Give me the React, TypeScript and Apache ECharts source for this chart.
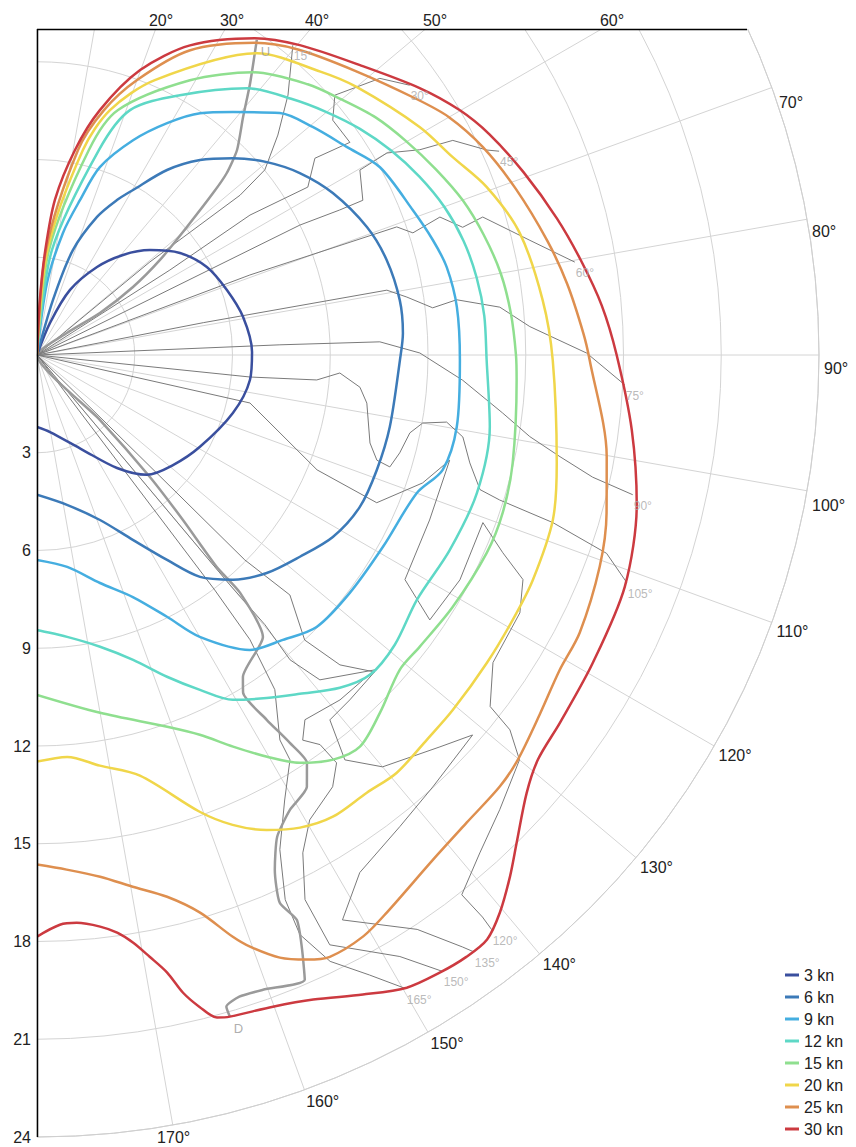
import React, { useEffect, useRef } from 'react';
import * as echarts from 'echarts';

// ---- data: [angle from bow (deg, clockwise from top), boat speed (kn)] ----
const windLabels = ['3 kn', '6 kn', '9 kn', '12 kn', '15 kn', '20 kn', '25 kn', '30 kn'];
const windColors = ['#3a4f9e', '#3c7ab8', '#45aee0', '#5ed8c6', '#8fdf8f', '#f0d64a', '#de8f4f', '#cc3a40'];

const polar3kn = [[20, 0], [22.1, 1.06], [26.9, 2.24], [34.3, 3.27], [40.7, 4.05], [47.1, 4.73], [54.5, 5.39], [62.6, 5.87], [71.1, 6.16], [79.5, 6.43], [89.2, 6.6], [96.7, 6.58], [106.5, 6.27], [119.4, 5.74], [129, 5.37], [137.5, 4.99], [144.7, 4.25], [154.2, 3.24], [170.4, 2.4], [180, 2.21]];
const polar6kn = [[15, 0], [16.2, 1.76], [18.9, 3.4], [23.5, 4.62], [27.3, 5.35], [30.2, 5.86], [35.1, 6.94], [39.9, 7.8], [44.85, 8.52], [50, 9.21], [55.3, 9.81], [61.3, 10.35], [68.8, 10.86], [74.8, 11.12], [81.4, 11.26], [86.6, 11.25], [90.8, 11.14], [101.5, 11.05], [108.7, 11.01], [115.2, 10.95], [121.6, 10.66], [127.5, 10.17], [133.5, 9.72], [138.9, 9.15], [143.7, 8.45], [147.6, 7.45], [152.6, 6.39], [159.1, 5.42], [168.7, 4.69], [180, 4.29]];
const polar9kn = [[6, 0], [7.9, 2.23], [12, 3.83], [15.5, 4.93], [18.5, 6.08], [24.1, 7.22], [29.3, 8.16], [34, 8.95], [38.9, 9.58], [45.1, 10.52], [50.4, 10.98], [56.1, 11.45], [61.3, 12.0], [68.9, 12.36], [73.8, 12.65], [77.9, 12.86], [83.5, 12.97], [90.7, 12.98], [99.7, 13.07], [105.8, 12.94], [110, 12.4], [119, 12.14], [127.25, 12.06], [134.2, 11.97], [139.2, 11.55], [144.2, 11.16], [150, 9.99], [153.6, 8.97], [158.4, 7.99], [164.55, 7.26], [171.9, 6.57], [180, 6.29]];
const polar12kn = [[4, 0], [8.1, 3.25], [16.8, 6.57], [20.8, 8.04], [28.8, 9.1], [38.2, 10.42], [45, 11.1], [50, 11.6], [55, 12.1], [60, 12.55], [65, 12.95], [70, 13.3], [75, 13.55], [80, 13.7], [85, 13.78], [90.6, 13.8], [99, 14.07], [107.4, 14.15], [115.3, 14.01], [122.8, 13.87], [129, 14.13], [133.85, 14.17], [137.7, 13.81], [142.2, 13.16], [146.2, 12.67], [150.4, 12.17], [154.05, 11.43], [158, 10.65], [162.5, 9.81], [167.8, 9.16], [173.9, 8.7], [180, 8.44]];
const polar15kn = [[3, 0], [6.5, 3.24], [14.2, 6.49], [18.3, 7.92], [29.1, 9.65], [37.4, 10.92], [45, 11.75], [50, 12.2], [55, 12.7], [60, 13.1], [65, 13.5], [70, 13.9], [75, 14.2], [80, 14.45], [85, 14.6], [90, 14.7], [93, 14.74], [102.8, 14.97], [108.7, 15.09], [113.75, 15.08], [121.2, 14.92], [127.3, 14.77], [130.95, 14.74], [136.2, 15.21], [140.5, 15.58], [143.8, 15.39], [147.2, 14.89], [150.2, 14.21], [153.4, 13.44], [156.8, 12.68], [160.7, 12.09], [170, 11.15], [180, 10.43]];
const polar20kn = [[2, 0], [5.7, 3.24], [12.6, 6.44], [16.6, 7.84], [23.2, 9.18], [36.1, 11.46], [45, 12.3], [50, 12.8], [59.2, 13.67], [64.55, 14.13], [69.5, 14.73], [75.8, 15.28], [83.8, 15.61], [90.6, 15.83], [101.7, 16.29], [107.7, 16.62], [114.4, 16.71], [119.1, 16.71], [124.4, 16.73], [130.5, 16.78], [134.6, 16.81], [139.3, 16.92], [143, 16.82], [147.35, 16.83], [150.9, 16.6], [154.2, 16.19], [157.4, 15.62], [160.4, 14.88], [166.25, 13.29], [171.3, 12.75], [175.7, 12.37], [180, 12.48]];
const polar25kn = [[1, 0], [4.9, 3.23], [11.3, 6.41], [15.3, 7.79], [20, 8.98], [26.6, 10.45], [34.9, 11.68], [40.5, 12.33], [48.3, 13.1], [56, 14.05], [60, 14.6], [65, 15.1], [70.8, 15.55], [77.4, 16.05], [82.4, 16.42], [87.7, 16.78], [90.5, 16.96], [100.1, 17.76], [105.5, 18.14], [110.6, 18.45], [117.1, 18.71], [121.1, 18.73], [125.6, 18.97], [130.1, 19.29], [133, 19.42], [137.4, 19.49], [141.9, 19.69], [147.9, 20.2], [150.7, 20.46], [154.05, 20.54], [155.95, 20.32], [158.05, 19.94], [160.2, 19.3], [161.4, 18.84], [163.7, 17.83], [166.5, 17.1], [169.8, 16.58], [173.1, 16.13], [176.7, 15.82], [180, 15.64]];
const polar30kn = [[0, 0], [3, 1.7], [4.5, 3.2], [6.6, 4.8], [10.5, 6.4], [14.4, 7.76], [19.9, 9.3], [26.3, 10.6], [34.5, 11.8], [40.3, 12.47], [48.1, 13.32], [55.1, 14.32], [59.9, 14.99], [64, 15.45], [69.4, 15.95], [75.3, 16.5], [80.2, 16.95], [85, 17.4], [90, 17.79], [97.2, 18.4], [104, 18.97], [111.5, 19.39], [119, 19.5], [125.1, 19.62], [128.9, 19.76], [131.8, 20.16], [135.5, 21.0], [137.8, 21.61], [140.3, 22.24], [142.4, 22.64], [144.5, 22.69], [146.9, 22.63], [149.7, 22.49], [153, 22.03], [156.8, 21.52], [160.1, 21.27], [163.75, 21.15], [164.8, 21.07], [166, 20.62], [167.1, 20.08], [168.1, 19.37], [169.4, 18.79], [170.7, 18.28], [172.1, 17.9], [173.7, 17.65], [176, 17.47], [177.7, 17.5], [180, 17.85]];

// true wind angle lines
const twaNames = ['15°', '30°', '45°', '60°', '75°', '90°', '105°', '120°', '135°', '150°', '165°'];
const twa15 = [[50.5, 0], [50.5, 4.49], [51.4, 6.4], [51.8, 7.93], [50.9, 9.01], [47.6, 10.01], [44.0, 11.09], [39.55, 12.33]];
const twa30 = [[57.4, 0], [57.4, 4.84], [56.7, 7.82], [58.2, 9.78], [54.7, 10.45], [55.8, 11.61], [51.55, 11.59], [48.9, 12.13], [51.1, 13.52], [54.1, 14.12]];
const twa45 = [[63.7, 0], [63.7, 9.0], [64.4, 10.3], [64.6, 11.07], [60.2, 11.42], [60.0, 12.4], [61.8, 13.33], [62.7, 14.36], [65.5, 15.17], [66.2, 15.5]];
const twa60 = [[69.5, 0], [69.4, 6.98], [70.4, 11.72], [72.0, 12.13], [71.1, 13.07], [73.3, 13.64], [72.8, 14.32], [76.9, 15.53], [80.2, 16.75]];
const twa75 = [[79, 0], [79, 5.2], [79.5, 10.92], [81.1, 11.49], [83.2, 12.23], [82.5, 12.99], [84.1, 14.28], [86.7, 15.15], [89.8, 16.87], [92.9, 18.06]];
const twa90 = [[87.6, 0], [87.6, 7.46], [87.8, 10.53], [89.7, 11.75], [93.4, 13.09], [97.1, 14.4], [99.4, 15.33], [101, 16.35], [102.4, 17.46], [103.2, 18.78]];
const twa105 = [[95.9, 0], [95.9, 6.57], [95.1, 8.62], [93.4, 9.31], [95.7, 9.96], [98.3, 10.23], [104.8, 10.57], [107.2, 10.92], [107.6, 11.36], [105.1, 11.53], [101.8, 11.69], [100, 12.02], [99.3, 12.74], [100.9, 13.31], [104, 13.69], [106.9, 14.21], [107.4, 14.88], [108, 16.65], [109.2, 18.51], [111.1, 19.4]];
const twa120 = [[102.7, 0], [102.7, 6.7], [112.3, 9.29], [113.5, 11.37], [108.35, 12.47], [104.3, 13.07], [112.8, 13.07], [121.4, 13.23], [124, 14.54], [118, 14.7], [110.6, 14.62], [113, 15.53], [114.8, 16.43], [118.1, 16.8], [124, 16.88], [127.8, 17.6], [128.4, 18.52], [130, 19.33], [134.5, 19.91], [138.35, 20.45], [141.8, 21.08], [141.6, 22.01], [141.65, 22.49]];
const twa135 = [[134.6, 0], [134.6, 8.96], [133.5, 10.7], [136.8, 12.0], [135.65, 13.3], [133.2, 14.21], [137.8, 14.29], [141.25, 14.36], [142.75, 15.61], [140, 16.5], [134.2, 17.25], [131.1, 17.74], [137.5, 17.98], [142.4, 18.26], [148.05, 18.72], [151.6, 19.71], [146.5, 21.14], [144.3, 22.37], [143.8, 22.7]];
const twa150 = [[140, 0], [140, 9.21], [139.8, 10.84], [140.3, 12.16], [138.95, 13.22], [133, 14.17], [138.7, 14.09], [143.7, 13.89], [145.4, 14.36], [144, 14.78], [143.7, 15.53], [145.6, 16.06], [149.6, 16.54], [151.9, 17.32], [153.8, 18.63], [153.6, 20.21], [148.9, 21.56], [146.65, 22.65]];
const twa165 = [[142.9, 0], [142.9, 9.04], [143.2, 10.91], [144.6, 12.6], [147.75, 13.97], [148, 14.65], [150.9, 15.63], [153.85, 16.91], [155.5, 18.37], [155.6, 19.53], [154.2, 20.67], [151.8, 21.59], [149.8, 22.5]];

// optimum VMG line: upwind part from U to centre, downwind part from centre to D
const vmgUpwind = [[34.9, 11.79], [38.1, 10.6], [40.9, 9.66], [44.3, 8.79], [46.2, 8.07], [47.4, 7.34], [49.5, 6.05], [52.3, 4.77], [54.7, 3.61], [56.3, 2.32], [53.7, 1.14], [54, 0]];
const vmgDownwind = [[136, 0], [135.9, 2.78], [137.2, 5.1], [138.5, 6.76], [139.7, 8.53], [139.5, 9.6], [141.3, 11.09], [147.4, 11.73], [148.6, 12.14], [147.8, 13.23], [146.9, 14.21], [146.5, 15.01], [148, 15.63], [150.9, 15.97], [153.5, 16.52], [155.2, 17.4], [156.1, 18.39], [155.3, 19.08], [155.9, 19.9], [156.8, 20.86], [160.4, 20.68], [162.5, 20.65], [163.8, 20.83], [163.75, 21.15]];

// angle labels above the clipped top edge, and the 70° label
const topAngleLabels = ['20°', '30°', '40°', '50°', '60°', '70°'];
const speedMax = 24;
const speedStep = 3;

const FONT = 'Liberation Sans, Arial, sans-serif';

export default function App() {
  const ref = useRef<HTMLDivElement>(null);
  useEffect(() => {
    const chart = echarts.init(ref.current as HTMLDivElement, undefined, { renderer: 'svg' });
    const toPolar = (pts: number[][]) => pts.map(([a, r]) => [r, 180 - a]);
    const curves = [polar3kn, polar6kn, polar9kn, polar12kn, polar15kn, polar20kn, polar25kn, polar30kn];
    const twaLines = [twa15, twa30, twa45, twa60, twa75, twa90, twa105, twa120, twa135, twa150, twa165];

    const series: any[] = [];
    twaLines.forEach((ln, i) => {
      series.push({
        type: 'line', coordinateSystem: 'polar', name: 'twa' + twaNames[i],
        data: toPolar(ln), showSymbol: false, symbol: 'none', silent: true, z: 2,
        lineStyle: { color: '#7a7a7a', width: 1 },
      });
    });
    series.push({
      type: 'line', coordinateSystem: 'polar', name: 'vmg',
      data: toPolar([...vmgUpwind, ...vmgDownwind]), showSymbol: false, symbol: 'none', z: 3,
      smooth: 0.2, lineStyle: { color: '#9a9a9a', width: 2.5 },
    });
    curves.forEach((c, i) => {
      series.push({
        type: 'line', coordinateSystem: 'polar', name: windLabels[i],
        data: toPolar(c), showSymbol: false, symbol: 'none', z: 4,
        smooth: 0.3, color: windColors[i], lineStyle: { color: windColors[i], width: 2.5 },
      });
    });
    series.push({
      type: 'scatter', coordinateSystem: 'polar', name: 'twaLabels', symbolSize: 0, z: 5, silent: true,
      data: twaLines.map((ln, i) => {
        const last = ln[ln.length - 1];
        return { name: twaNames[i], value: [last[1], 180 - last[0]] };
      }),
      label: { show: true, formatter: '{b}', position: [1, 5], align: 'left', verticalAlign: 'top', color: '#a8a8a8', fontSize: 12, fontFamily: FONT },
    });
    series.push({
      type: 'scatter', coordinateSystem: 'polar', name: 'vmgLabels', symbolSize: 0, z: 5, silent: true,
      data: [
        { name: 'U', value: [vmgUpwind[0][1], 180 - vmgUpwind[0][0]] },
        { name: 'D', value: [vmgDownwind[vmgDownwind.length - 1][1], 180 - vmgDownwind[vmgDownwind.length - 1][0]] },
      ],
      label: { show: true, formatter: '{b}', position: [4, 5], align: 'left', verticalAlign: 'top', color: '#999', fontSize: 13, fontFamily: FONT },
    });

    const topLabelPos = [[161, 20], [232, 20], [317, 20], [435, 20], [612, 20], [791, 102]];
    const graphic: any[] = [
      { type: 'rect', shape: { x: 0, y: 0, width: 856, height: 29 }, style: { fill: '#fff' }, z: 100 },
      { type: 'line', shape: { x1: 37, y1: 29.5, x2: 747, y2: 29.5 }, style: { stroke: '#000', lineWidth: 1.5 }, z: 101 },
      { type: 'line', shape: { x1: 37.5, y1: 29, x2: 37.5, y2: 1137 }, style: { stroke: '#000', lineWidth: 1.5 }, z: 101 },
      ...topAngleLabels.map((t, i) => ({
        type: 'text', x: topLabelPos[i][0], y: topLabelPos[i][1], z: 102,
        style: { text: t, fill: '#222', fontSize: 16, fontFamily: FONT, align: 'center', verticalAlign: 'middle' },
      })),
    ];

    chart.setOption({
      animation: false,
      backgroundColor: '#fff',
      polar: { center: [37, 355], radius: 782 },
      angleAxis: {
        type: 'value', min: 0, max: 180, interval: 10,
        startAngle: -90, endAngle: 90, clockwise: false,
        axisLine: { show: true, lineStyle: { color: '#cfcfcf', width: 1 } },
        axisTick: { show: false },
        splitLine: { show: true, lineStyle: { color: '#d4d4d4', width: 1 } },
        axisLabel: {
          margin: 5, color: '#222', fontSize: 16, lineHeight: 14, fontFamily: FONT,
          rich: {
            gap: { fontSize: 16, lineHeight: 27 },
            t: { fontSize: 16, lineHeight: 14, color: '#222', fontFamily: FONT },
          },
          formatter: (v: number) => {
            const deg = 180 - v;
            if (v <= 0 || deg <= 70) return '';
            if (deg <= 100) return '{gap| }\n{t|' + deg + '°}';
            return deg + '°';
          },
        },
      },
      radiusAxis: {
        type: 'value', min: 0, max: speedMax, interval: speedStep,
        axisLine: { show: false },
        axisTick: { show: false },
        splitLine: { show: true, lineStyle: { color: '#d4d4d4', width: 1 } },
        axisLabel: {
          margin: -6, align: 'right', color: '#222', fontSize: 16, fontFamily: FONT,
          formatter: (v: number) => (v === 0 ? '' : String(v)),
        },
      },
      legend: {
        data: windLabels, orient: 'vertical', left: 780, top: 962, itemGap: 6,
        itemWidth: 14, itemHeight: 3, icon: 'rect',
        textStyle: { fontSize: 16, lineHeight: 16, color: '#222', fontFamily: FONT },
      },
      series,
      graphic,
    });
    return () => chart.dispose();
  }, []);
  return <div ref={ref} style={{ position: 'absolute', left: 0, top: 0, width: 856, height: 1147 }} />;
}
